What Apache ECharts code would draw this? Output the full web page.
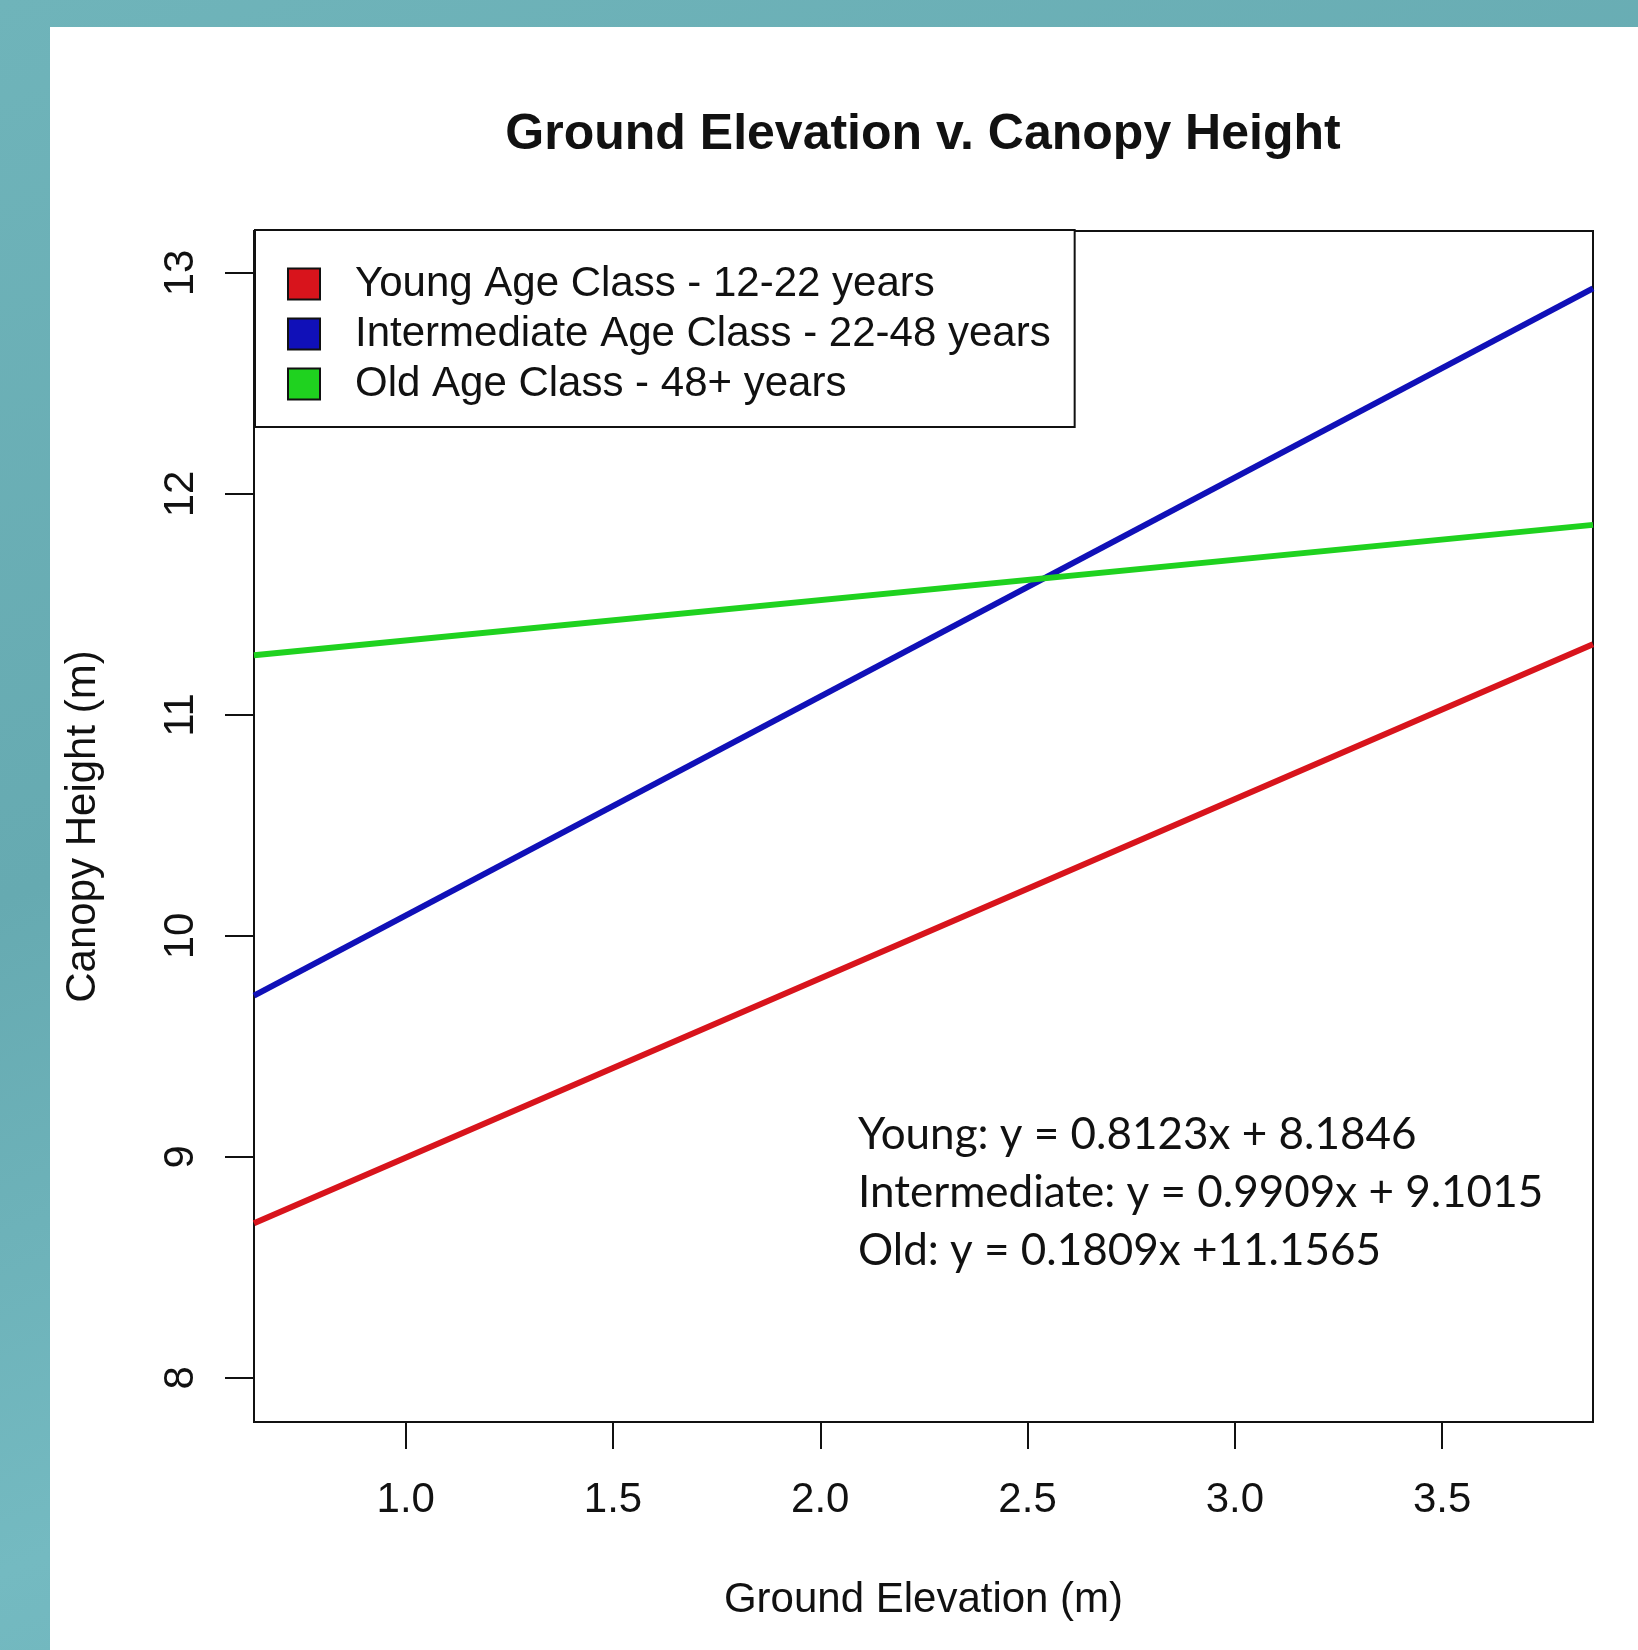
<!DOCTYPE html>
<html>
<head>
<meta charset="utf-8">
<title>Ground Elevation v. Canopy Height</title>
<script src="https://cdn.jsdelivr.net/npm/echarts@6/dist/echarts.min.js"></script>
<style>
  html, body { margin: 0; padding: 0; }
  body {
    width: 1638px; height: 1650px; position: relative; overflow: hidden;
    background: linear-gradient(160deg, #6fb4ba 0%, #66aab1 40%, #74bac1 70%, #68adb4 100%);
  }
  #panel { position: absolute; left: 50px; top: 27px; right: 0; bottom: 0; background: #fff; }
  #chart { position: absolute; left: 0; top: 0; width: 1638px; height: 1650px; }
</style>
</head>
<body>
<div id="panel"></div>
<div id="chart"></div>
<script>
// axis range
const xRange = [0.634, 3.864];
const yRange = [7.80, 13.19];
const xTicks = [1.0, 1.5, 2.0, 2.5, 3.0, 3.5];
const yTicks = [8, 9, 10, 11, 12, 13];

// fitted lines, value at left and right edge of the box
const seriesNames = [
  "Young Age Class - 12-22 years",
  "Intermediate Age Class - 22-48 years",
  "Old Age Class - 48+ years"
];
const youngY = [8.70, 11.32];
const interY = [9.73, 12.93];
const oldY = [11.27, 11.86];
const lineColors = ["#d8141c", "#1010b8", "#1fd21f"];

const equations = [
  "Young: y = 0.8123x + 8.1846",
  "Intermediate: y = 0.9909x + 9.1015",
  "Old: y = 0.1809x +11.1565"
];

const FONT = "Liberation Sans, Arial, sans-serif";

function toPoints(ys) {
  return [[xRange[0], ys[0]], [xRange[1], ys[1]]];
}

const chart = echarts.init(document.getElementById("chart"));

chart.setOption({
  animation: false,
  textStyle: { fontFamily: FONT },
  grid: {
    left: 254, top: 231, width: 1339, height: 1191,
    show: true, borderColor: "#111", borderWidth: 2,
    backgroundColor: "transparent"
  },
  xAxis: {
    type: "value",
    min: xRange[0], max: xRange[1],
    name: "Ground Elevation (m)",
    nameLocation: "middle",
    nameGap: 157,
    nameTextStyle: { fontSize: 42, color: "#111", fontFamily: FONT },
    axisLine: { show: false },
    splitLine: { show: false },
    axisTick: {
      show: true, inside: false, length: 27,
      customValues: xTicks,
      lineStyle: { color: "#111", width: 2 }
    },
    axisLabel: {
      customValues: xTicks,
      margin: 57,
      fontSize: 42, color: "#111", fontFamily: FONT,
      formatter: (v) => v.toFixed(1)
    }
  },
  yAxis: {
    type: "value",
    min: yRange[0], max: yRange[1],
    name: "Canopy Height (m)",
    nameLocation: "middle",
    nameRotate: 90,
    nameGap: 150,
    nameTextStyle: { fontSize: 42, color: "#111", fontFamily: FONT },
    axisLine: { show: false },
    splitLine: { show: false },
    axisTick: {
      show: true, inside: false, length: 29,
      customValues: yTicks,
      lineStyle: { color: "#111", width: 2 }
    },
    axisLabel: {
      customValues: yTicks,
      rotate: 90,
      margin: 52,
      fontSize: 42, color: "#111", fontFamily: FONT
    }
  },
  legend: {
    orient: "vertical",
    left: 255, top: 230,
    icon: "rect",
    itemWidth: 32, itemHeight: 31,
    itemGap: 8,
    padding: [33, 24, 22, 32],
    borderColor: "#111", borderWidth: 2,
    backgroundColor: "#fff",
    itemStyle: { borderColor: "#111", borderWidth: 2 },
    textStyle: { fontSize: 42, lineHeight: 42, color: "#111", fontFamily: FONT, padding: [0, 0, 0, 30] },
    data: seriesNames
  },
  graphic: [
    {
      type: "text",
      x: 923, y: 135,
      style: {
        text: "Ground Elevation v. Canopy Height",
        fontSize: 50, fontWeight: "bold", fontFamily: FONT,
        fill: "#111", align: "center", verticalAlign: "middle"
      }
    },
    {
      type: "text",
      x: 858, y: 1106,
      style: {
        text: equations.join("\n"),
        fontSize: 44, lineHeight: 58, fontFamily: "Lato, sans-serif",
        fill: "#111", align: "left", verticalAlign: "top"
      }
    }
  ],
  series: [
    { name: seriesNames[0], type: "line", data: toPoints(youngY), color: lineColors[0] },
    { name: seriesNames[1], type: "line", data: toPoints(interY), color: lineColors[1] },
    { name: seriesNames[2], type: "line", data: toPoints(oldY), color: lineColors[2] }
  ].map((s) => Object.assign(s, {
    showSymbol: false, symbol: "none", silent: true, z: 1,
    lineStyle: { width: 6, color: s.color },
    itemStyle: { color: s.color }
  }))
});

window.addEventListener("resize", function () {
  chart.resize();
});
</script>
</body>
</html>
